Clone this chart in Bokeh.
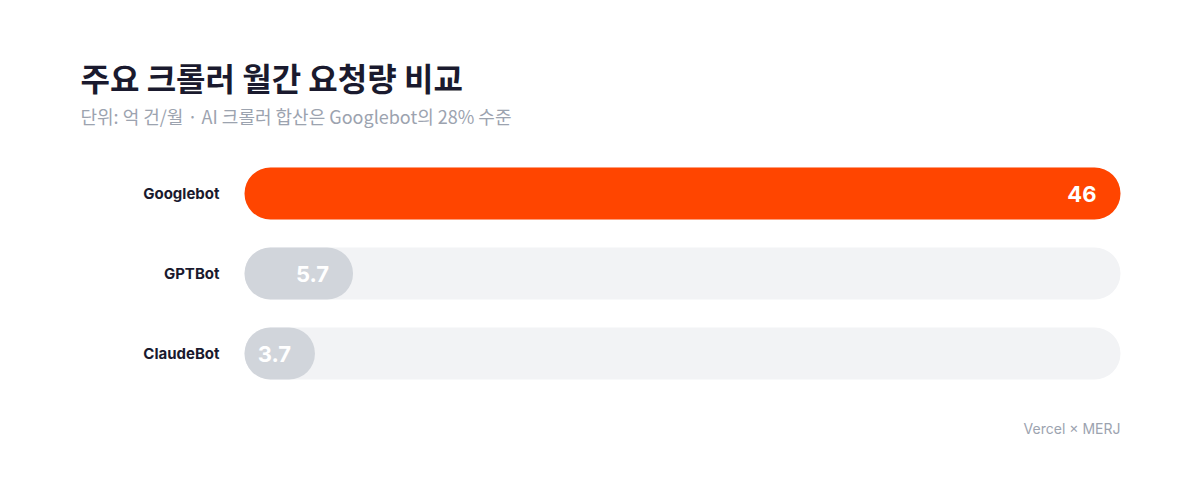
from bokeh.plotting import figure
from bokeh.models import Label, ColumnDataSource, Range1d
from bokeh.core.properties import value
from bokeh.embed import file_html
from bokeh.resources import INLINE

# ---- data ----
bots = ["Googlebot", "GPTBot", "ClaudeBot"]
requests = [46, 5.7, 3.7]            # 억 건/월
value_labels = ["46", "5.7", "3.7"]
bar_colors = ["#FF4500", "#D1D5DB", "#D1D5DB"]
max_value = 46

title_text = "주요 크롤러 월간 요청량 비교"
subtitle_text = "단위: 억 건/월 · AI 크롤러 합산은 Googlebot의 28% 수준"
source_text = "Vercel × MERJ"

# ---- layout (pixels) ----
W, H = 1200, 496
BAR_L, BAR_R = 244, 1120        # pixel extent of the 0..max track
ROW_TOP, ROW_STEP = 193, 80     # centre of first row, row spacing
px_per_unit = (BAR_R - BAR_L) / max_value

ypos = [len(bots) - 1 - i for i in range(len(bots))]
src = ColumnDataSource(dict(bot=bots, y=ypos, val=requests, lab=value_labels,
                            color=bar_colors, track=[max_value] * len(bots),
                            zero=[0] * len(bots)))

top_y = ypos[0] + ROW_TOP / ROW_STEP
p = figure(width=W, height=H, output_backend="svg", toolbar_location=None,
           x_range=Range1d(-BAR_L / px_per_unit, max_value + (W - BAR_R) / px_per_unit),
           y_range=Range1d(top_y - H / ROW_STEP, top_y),
           min_border=0)
p.outline_line_color = None
p.background_fill_color = "white"
p.border_fill_color = "white"
p.grid.visible = False
p.axis.visible = False

# track
p.hbar(y="y", left=0, right="track", height=0.65, source=src,
       fill_color="#F2F3F5", line_color=None, border_radius=26)
# value bars
p.hbar(y="y", left=0, right="val", height=0.65, source=src,
       fill_color="color", line_color=None, border_radius=26)
# value labels
p.text(x="val", y="y", text="lab", source=src, x_offset=-24,
       text_align="right", text_baseline="middle",
       text_font=value("Inter"), text_font_style="bold",
       text_font_size="22px", text_color="white")
# category labels
p.text(x="zero", y="y", text="bot", source=src, x_offset=-25,
       text_align="right", text_baseline="middle",
       text_font=value("Inter"), text_font_style="bold",
       text_font_size="15px", text_color="#1A1A2E")

# title, subtitle, source
p.add_layout(Label(x=80, y=H - 76, x_units="screen", y_units="screen",
                   text=title_text, text_font="Noto Sans CJK KR",
                   text_font_style="bold", text_font_size="32px",
                   text_color="#1A1A2E", text_baseline="middle"))
p.add_layout(Label(x=80, y=H - 115, x_units="screen", y_units="screen",
                   text=subtitle_text, text_font="Noto Sans CJK KR",
                   text_font_size="18px", text_color="#9CA3AF",
                   text_baseline="middle"))
p.add_layout(Label(x=BAR_R, y=H - 428, x_units="screen", y_units="screen",
                   text=source_text, text_font="Inter",
                   text_font_size="14px", text_color="#9CA3AF",
                   text_align="right", text_baseline="middle"))

open("out.html", "w").write(file_html(p, INLINE))
